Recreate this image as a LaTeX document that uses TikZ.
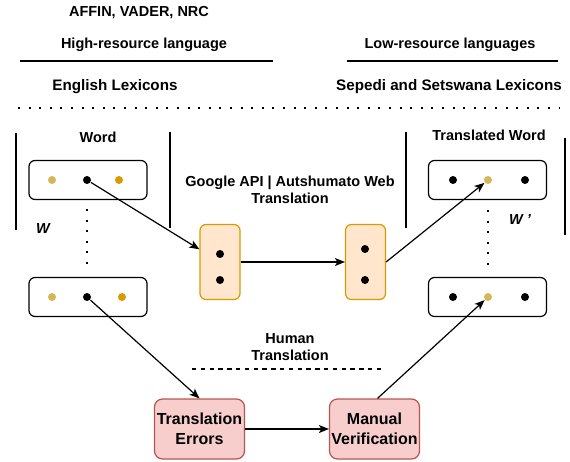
\documentclass[tikz,border=0pt]{standalone}
\usepackage{fontspec}
\setmainfont{Liberation Sans}
\usetikzlibrary{positioning,arrows.meta}

\definecolor{tandot}{HTML}{D6B656}
\definecolor{orangedot}{HTML}{D79B00}
\definecolor{orangefill}{HTML}{FFE6CC}
\definecolor{redfill}{HTML}{F8CECC}
\definecolor{redline}{HTML}{B85450}

\tikzset{
  lbl/.style={font=\fontsize{14.5}{17}\selectfont\bfseries, align=center, inner sep=0pt},
  biglbl/.style={lbl, font=\fontsize{15.2}{18}\selectfont\bfseries},
  wordbox/.style={draw, rounded corners=6pt, minimum width=118pt, minimum height=39pt, line width=1.2pt},
  vecbox/.style={draw=orangedot, fill=orangefill, rounded corners=6pt, minimum width=40pt, minimum height=75pt, line width=1.2pt},
  errbox/.style={draw=redline, fill=redfill, rounded corners=8pt, minimum width=90pt, minimum height=60pt, line width=1.2pt,
    align=center, inner sep=0pt, font=\fontsize{16}{20}\selectfont\bfseries},
  dot/.style={circle, fill=black, inner sep=0pt, minimum size=8pt},
  bigdots/.style={line width=2pt, dash pattern=on 2pt off 8.6pt},
  arr/.style={-{Stealth[length=10pt,width=8pt,inset=2.5pt]}},
}

\begin{document}
\begin{tikzpicture}[x=1pt, y=-1pt, line width=1.2pt]
  \useasboundingbox (0,0) rectangle (570,461);

  % headings
  \node[lbl] (lexnames) at (139,13) {AFFIN, VADER, NRC};
  \node[lbl] (highres) at (144,45) {High-resource language};
  \node[lbl] (lowres) at (450,45) {Low-resource languages};
  \node[biglbl] (englex) at (115,87) {English Lexicons};
  \node[biglbl] (setlex) at (449,87) {Sepedi and Setswana Lexicons};
  \draw (20,61) -- (273,61);
  \draw (347,61) -- (558,61);
  \draw[bigdots] (18,108) -- (560,108);

  % source words
  \draw (16,133) -- (16,230);
  \draw (170,132) -- (170,228);
  \node[lbl] (wordlbl) at (98,137) {Word};
  \node[wordbox] (w1) at (88,180) {};
  \node[dot, fill=tandot] (w1a) at (52,180) {};
  \node[dot] (w1b) at (87,180) {};
  \node[dot, fill=orangedot] (w1c) at (119,180) {};
  \node[wordbox] (w2) at (88,297) {};
  \node[dot, fill=tandot] (w2a) at (52,297) {};
  \node[dot] (w2b) at (87,297) {};
  \node[dot, fill=orangedot] (w2c) at (122,297) {};
  \draw[bigdots] (87,209) -- (87,268);
  \node[lbl, font=\fontsize{14.5}{17}\selectfont\bfseries\itshape] (wlbl) at (43,229) {W};

  % translated words
  \draw (406,132) -- (406,228);
  \draw (565,138) -- (565,235);
  \node[lbl] (twordlbl) at (489,135) {Translated Word};
  \node[wordbox] (t1) at (487.5,180) {};
  \node[dot] (t1a) at (453,180) {};
  \node[dot, fill=tandot] (t1b) at (488,180) {};
  \node[dot] (t1c) at (525,180) {};
  \node[wordbox] (t2) at (487.5,297) {};
  \node[dot] (t2a) at (453,297) {};
  \node[dot, fill=tandot] (t2b) at (488,297) {};
  \node[dot] (t2c) at (525,297) {};
  \draw[bigdots] (488,210) -- (488,270);
  \node[lbl, font=\fontsize{14.5}{17}\selectfont\bfseries\itshape] (wplbl) at (520,220) {W '};

  % machine translation
  \node[lbl] (mtlbl) at (290,190) {Google API | Autshumato Web\\Translation};
  \node[vecbox] (enc) at (220,262) {};
  \node[dot] (enca) at (220,254) {};
  \node[dot] (encb) at (220,280) {};
  \node[vecbox] (dec) at (365.5,262) {};
  \node[dot] (deca) at (365,249) {};
  \node[dot] (decb) at (365,280) {};

  % human translation
  \node[lbl] (htlbl) at (290,347) {Human\\Translation};
  \draw[dash pattern=on 4.4pt off 4.4pt] (192,369) -- (385,369);
  \node[errbox] (err) at (199.5,429) {Translation\\Errors};
  \node[errbox] (ver) at (374.5,429) {Manual\\Verification};

  % connectors
  \draw[arr] (w1b) -- (enc);
  \draw[arr] (enc) -- (dec);
  \draw[arr] (dec.east) -- (t1b);
  \draw[arr] (w2b) -- (err.north);
  \draw[arr] (err) -- (ver);
  \draw[arr] ([xshift=3pt]ver.north) -- (t2b);
\end{tikzpicture}
\end{document}
